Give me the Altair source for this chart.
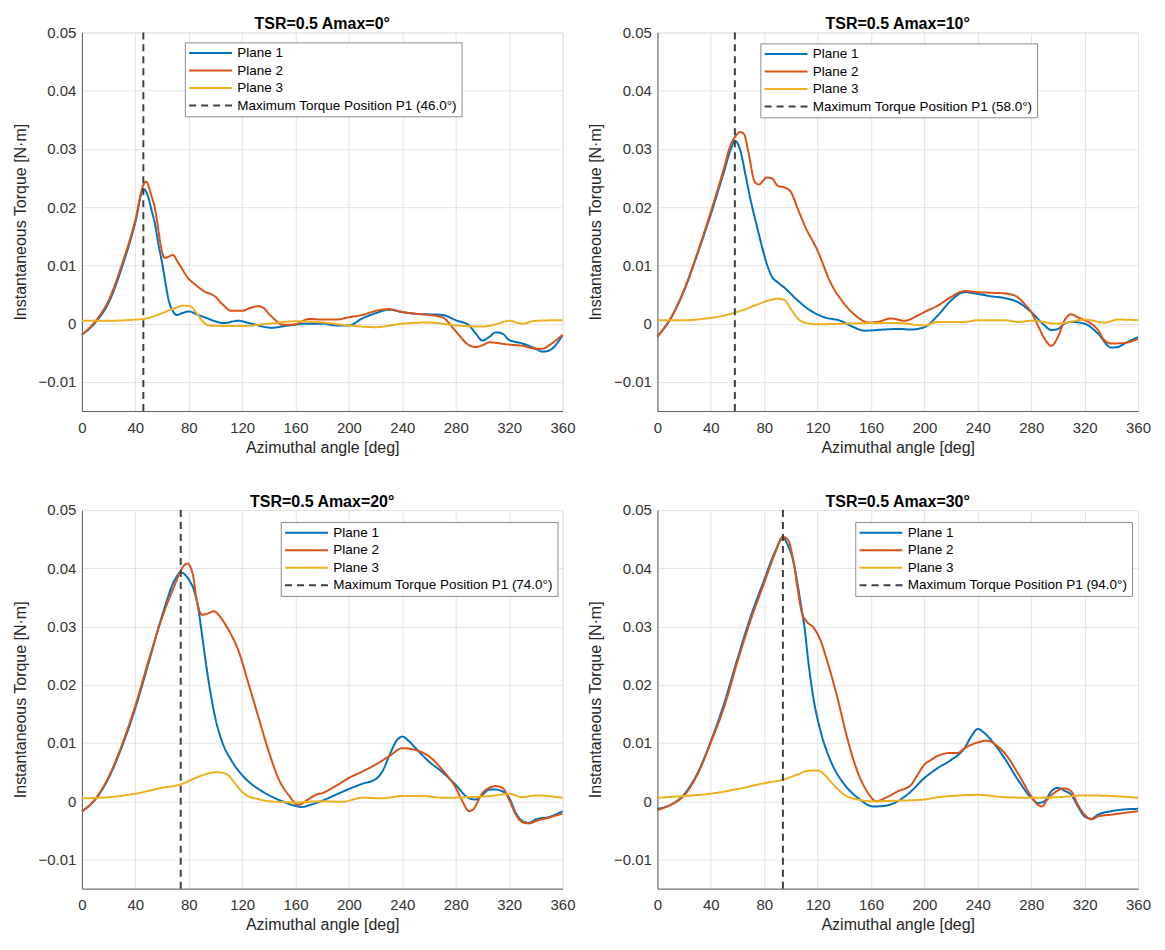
import altair as alt
import pandas as pd

BLUE = "#0072BD"
ORANGE = "#D95319"
YELLOW = "#EDB120"
DASH_GREY = "#404040"

AMAX = [0, 10, 20, 30]
PEAK_ANGLE = [46.0, 58.0, 74.0, 94.0]
PLANES = ["Plane 1", "Plane 2", "Plane 3"]
X_TICKS = [0, 40, 80, 120, 160, 200, 240, 280, 320, 360]
Y_TICKS = [-0.01, 0, 0.01, 0.02, 0.03, 0.04, 0.05]
LEGEND_X = [103, 103, 199, 198]
LEGEND_Y = [10, 11, 12, 12]

# Amax = 0
DEG_A0_P1 = [0, 10, 20, 30, 40, 46, 50, 52, 55, 57, 60, 62, 65, 68, 71, 75, 80, 87, 93, 100,
             106, 117, 127, 142, 155, 170, 180, 190, 200, 210, 220, 230, 240, 250, 260, 270, 280,
             290, 295, 300, 305, 310, 315, 320, 330, 340, 345, 350, 360]
TQ_A0_P1 = [-0.0019, 0.0002, 0.0036, 0.0097, 0.0174, 0.0231, 0.0215, 0.0196, 0.0168, 0.014,
            0.0105, 0.0078, 0.004, 0.0022, 0.0015, 0.0018, 0.0021, 0.0015, 0.001, 0.0004,
            0.0001, 0.0005, 0.0, -0.0007, -0.0003, 0.0, 0.0, -0.0003, -0.0003, 0.0009,
            0.0018, 0.0024, 0.002, 0.0017, 0.0016, 0.0015, 0.0006, -0.0003, -0.0017, -0.0029,
            -0.0023, -0.0015, -0.0017, -0.0028, -0.0034, -0.0043, -0.0048, -0.0046, -0.002]
DEG_A0_P2 = [0, 10, 20, 30, 40, 46, 48, 52, 55, 57, 59, 62, 65, 68, 72, 80, 86, 92, 99, 105,
             112, 120, 126, 132, 136, 140, 145, 150, 155, 160, 170, 180, 190, 200, 210, 220, 230,
             240, 250, 260, 270, 280, 290, 295, 300, 305, 320, 330, 340, 345, 350, 360]
TQ_A0_P2 = [-0.0019, 0.0004, 0.004, 0.0102, 0.0178, 0.0238, 0.0244, 0.022, 0.0194, 0.0165,
            0.0135, 0.0113, 0.0115, 0.0118, 0.0105, 0.0077, 0.0065, 0.0055, 0.0048, 0.0034,
            0.0022, 0.0022, 0.0027, 0.003, 0.0027, 0.0017, 0.0006, -0.0002, -0.0002, -0.0001,
            0.0008, 0.0007, 0.0007, 0.0011, 0.0015, 0.0022, 0.0025, 0.002, 0.0017, 0.0015,
            0.0011, -0.0013, -0.0037, -0.004, -0.0037, -0.0032, -0.0036, -0.0038, -0.0043,
            -0.0043, -0.0037, -0.0019]
DEG_A0_P3 = [0, 20, 40, 46, 60, 70, 76, 81, 86, 90, 95, 105, 120, 140, 160, 180, 200, 220, 240,
             260, 280, 300, 310, 320, 330, 340, 360]
TQ_A0_P3 = [0.0005, 0.0005, 0.0007, 0.0008, 0.0018, 0.0027, 0.0031, 0.003, 0.0018, 0.0005,
            -0.0003, -0.0004, -0.0004, 0.0, 0.0004, 0.0002, -0.0003, -0.0006, 0.0, 0.0002,
            -0.0003, -0.0005, -0.0001, 0.0005, 0.0, 0.0005, 0.0006]

# Amax = 10
DEG_A10_P1 = [0, 10, 20, 30, 40, 50, 55, 58, 62, 66, 70, 74, 78, 82, 86, 90, 95, 105, 115, 125,
              137, 147, 155, 170, 180, 190, 200, 210, 220, 230, 240, 250, 260, 270, 280, 290, 295,
              300, 305, 310, 320, 330, 340, 345, 350, 360]
TQ_A10_P1 = [-0.0022, 0.0009, 0.0057, 0.012, 0.0188, 0.0262, 0.03, 0.0314, 0.0298, 0.0255,
             0.021, 0.0172, 0.0135, 0.0102, 0.008, 0.0071, 0.0062, 0.004, 0.0022, 0.0011,
             0.0005, -0.0006, -0.0012, -0.001, -0.0009, -0.001, -0.0006, 0.0014, 0.004, 0.0054,
             0.0051, 0.0047, 0.0044, 0.0037, 0.002, -0.0003, -0.0011, -0.0009, 0.0, 0.0003,
             0.0, -0.0017, -0.0041, -0.004, -0.0034, -0.0023]
DEG_A10_P2 = [0, 10, 20, 30, 40, 50, 55, 58, 62, 65, 68, 73, 76, 82, 86, 90, 96, 100, 105, 110,
              120, 130, 140, 150, 158, 165, 175, 185, 195, 200, 210, 220, 230, 240, 250, 260, 268,
              275, 280, 285, 290, 295, 300, 305, 310, 315, 320, 325, 330, 335, 340, 350, 360]
TQ_A10_P2 = [-0.0022, 0.001, 0.0058, 0.0122, 0.0192, 0.0268, 0.0308, 0.032, 0.0329, 0.0325,
             0.0296, 0.0243, 0.0239, 0.0251, 0.0249, 0.0237, 0.0233, 0.0226, 0.0198, 0.017,
             0.0125, 0.0069, 0.0034, 0.0011, 0.0002, 0.0003, 0.0009, 0.0005, 0.0014, 0.002,
             0.0031, 0.0046, 0.0056, 0.0054, 0.0053, 0.0052, 0.0048, 0.0034, 0.002, -0.0003,
             -0.0026, -0.0038, -0.0023, 0.0006, 0.0016, 0.0011, 0.0006, 0.0, -0.0011, -0.0029,
             -0.0034, -0.0033, -0.0026]
DEG_A10_P3 = [0, 20, 40, 50, 58, 65, 75, 85, 90, 95, 100, 105, 110, 120, 140, 160, 180, 200, 210,
              230, 240, 260, 270, 280, 300, 320, 335, 345, 360]
TQ_A10_P3 = [0.0006, 0.0006, 0.001, 0.0014, 0.0019, 0.0024, 0.0033, 0.0041, 0.0043, 0.0041,
             0.0025, 0.0009, 0.0002, -0.0001, 0.0, 0.0001, 0.0001, -0.0003, 0.0003, 0.0003,
             0.0006, 0.0006, 0.0003, 0.0005, 0.0, 0.0007, 0.0002, 0.0007, 0.0006]

# Amax = 20
DEG_A20_P1 = [0, 10, 20, 30, 40, 50, 60, 70, 74, 78, 81, 84, 87, 90, 93, 96, 100, 105, 112, 122,
              135, 150, 160, 165, 170, 180, 190, 200, 210, 220, 225, 230, 236, 240, 245, 250, 260,
              270, 280, 290, 295, 300, 305, 310, 315, 320, 325, 330, 335, 340, 350, 360]
TQ_A20_P1 = [-0.0017, 0.0003, 0.004, 0.0094, 0.016, 0.0238, 0.0318, 0.0382, 0.0393, 0.0387,
             0.0377, 0.0362, 0.0333, 0.0285, 0.0235, 0.019, 0.0142, 0.0102, 0.007, 0.004,
             0.0017, 0.0, -0.0008, -0.001, -0.0007, 0.0001, 0.0011, 0.0021, 0.003, 0.0038,
             0.0051, 0.0077, 0.0105, 0.0111, 0.0103, 0.0091, 0.0068, 0.005, 0.0028, 0.0005,
             0.0003, 0.0011, 0.002, 0.002, 0.0017, 0.0006, -0.002, -0.0034, -0.0037, -0.0031,
             -0.0027, -0.0017]
DEG_A20_P2 = [0, 10, 20, 30, 40, 50, 60, 70, 74, 79, 83, 86, 90, 95, 99, 103, 107, 112, 117, 125,
              132, 140, 147, 155, 162, 170, 175, 180, 190, 200, 210, 220, 230, 240, 250, 260, 270,
              280, 285, 290, 293, 300, 305, 310, 315, 320, 325, 330, 335, 340, 350, 360]
TQ_A20_P2 = [-0.0018, 0.0004, 0.0042, 0.0097, 0.0164, 0.0242, 0.0315, 0.0374, 0.0396, 0.0408,
             0.039, 0.0345, 0.032, 0.0323, 0.0326, 0.0318, 0.0305, 0.0285, 0.026, 0.02,
             0.0146, 0.0085, 0.004, 0.001, -0.0006, 0.0004, 0.0011, 0.0014, 0.0026, 0.004,
             0.0051, 0.0063, 0.0077, 0.0091, 0.0088, 0.0077, 0.0054, 0.0023, 0.0, -0.0017,
             -0.0014, 0.0014, 0.0023, 0.0026, 0.0023, 0.0003, -0.0023, -0.0036, -0.0038, -0.0034,
             -0.0028, -0.0021]
DEG_A20_P3 = [0, 20, 40, 60, 74, 85, 95, 102, 108, 115, 120, 125, 130, 140, 160, 180, 195, 210,
              225, 240, 255, 270, 290, 310, 320, 330, 340, 360]
TQ_A20_P3 = [0.0005, 0.0007, 0.0013, 0.0023, 0.0029, 0.004, 0.0048, 0.005, 0.0047, 0.003,
             0.0016, 0.0008, 0.0005, 0.0, -0.0002, 0.0, -0.0001, 0.0006, 0.0005, 0.0009,
             0.0009, 0.0006, 0.0007, 0.001, 0.0013, 0.0007, 0.001, 0.0006]

# Amax = 30
DEG_A30_P1 = [0, 10, 20, 30, 40, 50, 60, 70, 80, 88, 94, 98, 102, 105, 108, 110, 113, 117, 122,
              130, 140, 150, 162, 170, 180, 190, 200, 210, 220, 230, 235, 240, 245, 250, 260, 270,
              280, 285, 290, 295, 300, 305, 310, 315, 320, 325, 330, 340, 350, 360]
TQ_A30_P1 = [-0.0013, -0.0006, 0.0012, 0.0048, 0.0103, 0.0168, 0.0245, 0.0318, 0.038, 0.0428,
             0.0452, 0.0438, 0.041, 0.0372, 0.033, 0.0302, 0.024, 0.0175, 0.0122, 0.0068,
             0.0029, 0.0006, -0.0009, -0.0008, 0.0, 0.0017, 0.004, 0.0057, 0.0071, 0.0091,
             0.0111, 0.0124, 0.0117, 0.0105, 0.0074, 0.0037, 0.0006, -0.0003, 0.0, 0.0017,
             0.0023, 0.0018, 0.0011, -0.0009, -0.0026, -0.003, -0.0023, -0.0017, -0.0014, -0.0013]
DEG_A30_P2 = [0, 10, 20, 30, 40, 50, 60, 70, 80, 88, 94, 98, 102, 105, 108, 112, 117, 122, 127,
              135, 142, 150, 157, 164, 170, 180, 190, 195, 200, 205, 210, 220, 225, 230, 240, 247,
              255, 260, 270, 280, 285, 288, 292, 297, 305, 310, 315, 320, 325, 330, 340, 350, 360]
TQ_A30_P2 = [-0.0015, -0.0006, 0.001, 0.0046, 0.0101, 0.0162, 0.024, 0.0312, 0.0375, 0.0425,
             0.0454, 0.0448, 0.041, 0.0365, 0.0325, 0.0308, 0.0298, 0.0277, 0.0242, 0.0176,
             0.011, 0.005, 0.0017, 0.0, 0.0005, 0.0017, 0.0028, 0.0046, 0.0063, 0.0071,
             0.0078, 0.0083, 0.0083, 0.0091, 0.0101, 0.0104, 0.0094, 0.0083, 0.0048, 0.0009,
             -0.0006, -0.0009, 0.0003, 0.0014, 0.0022, 0.0017, -0.0006, -0.0023, -0.0031, -0.0026,
             -0.0023, -0.002, -0.0017]
DEG_A30_P3 = [0, 20, 40, 60, 80, 94, 105, 112, 120, 125, 130, 135, 140, 150, 160, 180, 200, 210,
              220, 240, 260, 280, 300, 320, 340, 360]
TQ_A30_P3 = [0.0006, 0.0009, 0.0013, 0.0021, 0.0031, 0.0037, 0.0046, 0.0052, 0.0053, 0.0046,
             0.0033, 0.0021, 0.0011, 0.0003, 0.0, 0.0001, 0.0003, 0.0007, 0.0009, 0.0011,
             0.0007, 0.0006, 0.0007, 0.001, 0.0009, 0.0006]

PANEL_DATA = [
    [(DEG_A0_P1, TQ_A0_P1), (DEG_A0_P2, TQ_A0_P2), (DEG_A0_P3, TQ_A0_P3)],
    [(DEG_A10_P1, TQ_A10_P1), (DEG_A10_P2, TQ_A10_P2), (DEG_A10_P3, TQ_A10_P3)],
    [(DEG_A20_P1, TQ_A20_P1), (DEG_A20_P2, TQ_A20_P2), (DEG_A20_P3, TQ_A20_P3)],
    [(DEG_A30_P1, TQ_A30_P1), (DEG_A30_P2, TQ_A30_P2), (DEG_A30_P3, TQ_A30_P3)],
]


def panel(i):
    peak_label = f"Maximum Torque Position P1 ({PEAK_ANGLE[i]:.1f}°)"
    domain = PLANES + [peak_label]

    rows = []
    for name, (deg, tq) in zip(PLANES, PANEL_DATA[i]):
        rows += [{"angle": a, "torque": t, "series": name} for a, t in zip(deg, tq)]
    curves = pd.DataFrame(rows)
    peak = pd.DataFrame({"angle": [PEAK_ANGLE[i]], "series": [peak_label]})

    legend = alt.Legend(orient="none", legendX=LEGEND_X[i], legendY=LEGEND_Y[i])
    color = alt.Color("series:N", title=None, legend=legend,
                      scale=alt.Scale(domain=domain, range=[BLUE, ORANGE, YELLOW, DASH_GREY]))
    dash = alt.StrokeDash("series:N", title=None, legend=legend,
                          scale=alt.Scale(domain=domain, range=[[1, 0], [1, 0], [1, 0], [7, 5]]))

    x = alt.X("angle:Q", title="Azimuthal angle [deg]",
              scale=alt.Scale(domain=[0, 360], nice=False),
              axis=alt.Axis(values=X_TICKS, labelPadding=9, titlePadding=4, labelFlush=False))
    y = alt.Y("torque:Q", title="Instantaneous Torque [N·m]",
              scale=alt.Scale(domain=[-0.015, 0.05], nice=False),
              axis=alt.Axis(values=Y_TICKS, format=".2~f", labelPadding=6, titlePadding=10))

    lines = alt.Chart(curves).mark_line(strokeWidth=2, interpolate="monotone").encode(
        x=x, y=y, color=color, strokeDash=dash)
    rule = alt.Chart(peak).mark_rule(strokeWidth=2).encode(
        x="angle:Q", color=color, strokeDash=dash)
    return alt.layer(lines, rule).properties(
        width=481, height=379,
        title=alt.Title(f"TSR=0.5 Amax={AMAX[i]}°", frame="group"))


chart = alt.concat(
    panel(0), panel(1), panel(2), panel(3),
    columns=2, spacing={"row": 37, "column": 10}
).resolve_scale(
    color="independent", strokeDash="independent"
).configure(
    font="Liberation Sans",
    padding={"left": 3, "top": 7, "right": 5, "bottom": 5}
).configure_axis(
    labelFontSize=15, labelColor="#333333",
    titleFontSize=16, titleFontWeight="normal", titleColor="#262626",
    gridColor="#e3e3e3", domainColor="#5c5c5c", ticks=False
).configure_view(
    stroke="#e3e3e3"
).configure_title(
    fontSize=16, fontWeight="bold", offset=-7, color="#000000"
).configure_legend(
    fillColor="white", strokeColor="#8c8c8c", padding=4, cornerRadius=0,
    labelFontSize=13.5, labelColor="#000000", labelLimit=320,
    # short custom stroke so the rows stay tight while the line stays ~43px long
    symbolType="M-4,0L4,0", symbolSize=115, symbolStrokeWidth=2,
    symbolOffset=15, labelOffset=20, rowPadding=2.5
)

chart.save("out.html", embed_options={"renderer": "svg", "actions": False})
